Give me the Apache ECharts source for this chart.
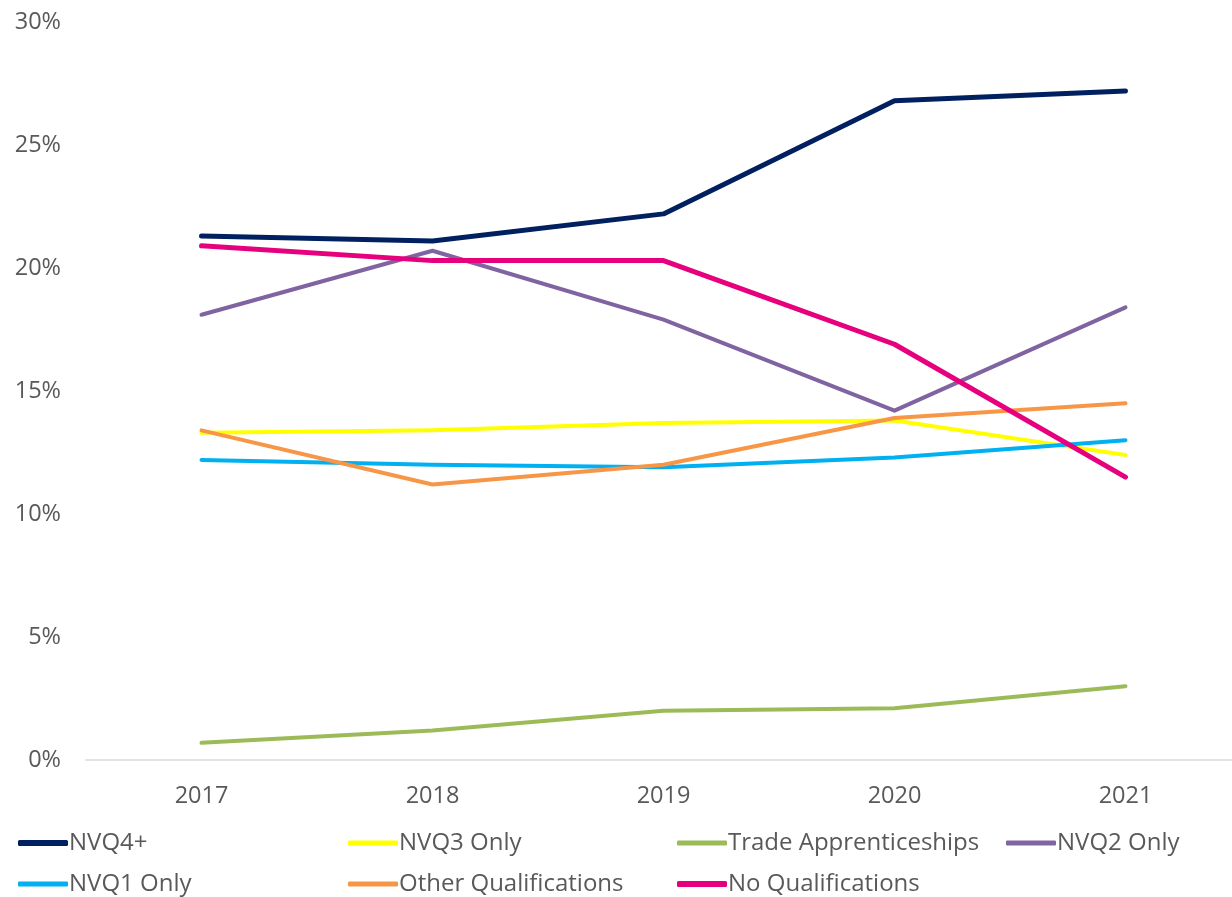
<!DOCTYPE html>
<html>
<head>
	<meta charset="utf-8">
	<title>Qualifications</title>
	<style>
		html, body { margin: 0; padding: 0; background: #fff; overflow: hidden; }
		/* a bit wider than the window: the right end of the axis runs off the picture */
		#chart { width: 1241px; height: 897px; }
	</style>
</head>
<body>
	<div id="chart"></div>
<script src="https://cdn.jsdelivr.net/npm/echarts@6/dist/echarts.min.js"></script>
<script>
// categories
var years = ['2017', '2018', '2019', '2020', '2021'];
// series values (%)
var nvq4 = [21.3, 21.1, 22.2, 26.8, 27.2];
var nvq3 = [13.3, 13.4, 13.7, 13.8, 12.4];
var trade = [0.7, 1.2, 2.0, 2.1, 3.0];
var nvq2 = [18.1, 20.7, 17.9, 14.2, 18.4];
var nvq1 = [12.2, 12.0, 11.9, 12.3, 13.0];
var other = [13.4, 11.2, 12.0, 13.9, 14.5];
var noQual = [20.9, 20.3, 20.3, 16.9, 11.5];
// y ticks
var yTicks = [0, 5, 10, 15, 20, 25, 30];

var font = 'Open Sans';
var grey = '#595959';

var defs = [
	{ name: 'NVQ4+', data: nvq4, color: '#002060', width: 5, left: 18, top: 831 },
	{ name: 'NVQ3 Only', data: nvq3, color: '#FFFF00', width: 4, left: 348, top: 831 },
	{ name: 'Trade Apprenticeships', data: trade, color: '#9BBB59', width: 4, left: 677, top: 831 },
	{ name: 'NVQ2 Only', data: nvq2, color: '#8064A2', width: 4, left: 1006, top: 831 },
	{ name: 'NVQ1 Only', data: nvq1, color: '#00B0F0', width: 4, left: 18, top: 872 },
	{ name: 'Other Qualifications', data: other, color: '#F79646', width: 4, left: 348, top: 872 },
	{ name: 'No Qualifications', data: noQual, color: '#E6007E', width: 5, left: 677, top: 872 }
];

var series = defs.map(function (d) {
	return {
		name: d.name,
		type: 'line',
		data: d.data,
		symbol: 'none',
		color: d.color,
		lineStyle: { color: d.color, width: d.width, cap: 'round', join: 'round' },
		itemStyle: { color: d.color }
	};
});

// one legend per item so each column sits where it does in the picture
var legends = defs.map(function (d) {
	return {
		data: [d.name],
		left: d.left,
		top: d.top,
		padding: 0,
		icon: 'roundRect',
		itemWidth: 50,
		itemHeight: d.width + 1,
		itemGap: 0,
		textStyle: { fontFamily: font, fontSize: 24, color: grey, padding: [0, 0, 0, -4] },
		selectedMode: false
	};
});

var myChart = echarts.init(document.getElementById('chart'));
myChart.setOption({
	animation: false,
	backgroundColor: '#fff',
	grid: { left: 86, top: 22, right: 0, height: 738, containLabel: false },
	legend: legends,
	xAxis: {
		type: 'category',
		data: years,
		boundaryGap: true,
		axisLine: { lineStyle: { color: '#D9D9D9', width: 1.5 } },
		axisTick: { show: false },
		axisLabel: { fontFamily: font, fontSize: 23.5, color: grey, margin: 24 }
	},
	yAxis: {
		type: 'value',
		min: yTicks[0],
		max: yTicks[yTicks.length - 1],
		interval: 5,
		splitLine: { show: false },
		axisLine: { show: false },
		axisTick: { show: false },
		axisLabel: { fontFamily: font, fontSize: 23.5, color: grey, margin: 25, formatter: '{value}%' }
	},
	series: series
});
</script>
</body>
</html>
